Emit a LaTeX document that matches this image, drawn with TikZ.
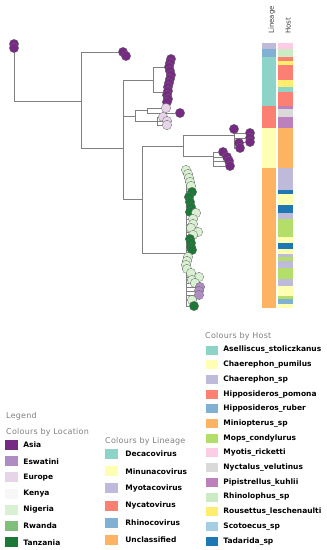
\documentclass[tikz,border=0pt]{standalone}
\usepackage{fontspec}
\setmainfont{DejaVu Sans}
\newfontfamily\headfont[LetterSpace=3]{DejaVu Sans}
\usetikzlibrary{positioning,backgrounds}
\definecolor{asia}{HTML}{762A83}
\definecolor{eswatini}{HTML}{AF8DC3}
\definecolor{europe}{HTML}{E7D4E8}
\definecolor{kenya}{HTML}{F7F7F7}
\definecolor{nigeria}{HTML}{D9F0D3}
\definecolor{rwanda}{HTML}{7FBF7B}
\definecolor{tanzania}{HTML}{1B7837}
\definecolor{deca}{HTML}{8DD3C7}
\definecolor{minuna}{HTML}{FFFFB3}
\definecolor{myota}{HTML}{BEBADA}
\definecolor{nycato}{HTML}{FB8072}
\definecolor{rhino}{HTML}{80B1D3}
\definecolor{uncl}{HTML}{FDB462}
\definecolor{mops}{HTML}{B3DE69}
\definecolor{myotis}{HTML}{FCCDE5}
\definecolor{nyctalus}{HTML}{D9D9D9}
\definecolor{pipi}{HTML}{BC80BD}
\definecolor{rhinolo}{HTML}{CCEBC5}
\definecolor{rouse}{HTML}{FFED6F}
\definecolor{scoto}{HTML}{A6CEE3}
\definecolor{tada}{HTML}{1F78B4}
\begin{document}
\begin{tikzpicture}[x=1pt,y=-1pt,
    branch/.style={draw=black!50,line width=0.8pt},
    tip/.style={circle,draw=black!60,line width=0.3pt,inner sep=0pt,minimum size=9.4pt},
    swatch/.style={minimum width=13pt,minimum height=10pt,inner sep=0pt},
    head/.style={font=\headfont\fontsize{8}{9}\selectfont,text=black!50,anchor=west,inner sep=1pt},
    item/.style={font=\fontsize{7.5}{8}\selectfont\bfseries,anchor=west,inner sep=1pt},
    coltitle/.style={font=\fontsize{7}{8}\selectfont,text=black!75,rotate=90,anchor=west,inner sep=0pt}]
  \useasboundingbox (0,0) rectangle (327,550);
  % internal nodes of the tree
  \coordinate (root) at (14,101);
  \coordinate (n1) at (81,101);
  \coordinate (n2) at (123,148);
  \coordinate (n3) at (153,80);
  \coordinate (n3a) at (167,67);
  \coordinate (n3b) at (166,92);
  \coordinate (n4) at (135,116);
  \coordinate (n4a) at (147,110);
  \coordinate (n4b) at (157,121);
  \coordinate (n5) at (142,199);
  \coordinate (n6) at (183,146);
  \coordinate (n8) at (234,135);
  \coordinate (n9) at (213,156);
  \coordinate (n7) at (186,253);
  % tips
  \foreach \x/\y/\c [count=\i] in {14/44/asia,14/48/asia}
    \node[tip,fill=\c] (t\i) at (\x,\y) {};
  \foreach \x/\y/\c [count=\i] in {123/52/asia,126/56/asia}
    \node[tip,fill=\c] (a\i) at (\x,\y) {};
  \foreach \x/\y/\c [count=\i] in {171/59/asia,170/63/asia,169/67/asia,170/71/asia,171/75/asia,170/79/asia,
      169/83/asia,168/87/asia,168/91/asia,167/95/asia,168/99/asia,167/102/asia}
    \node[tip,fill=\c] (s\i) at (\x,\y) {};
  \foreach \x/\y/\c [count=\i] in {166/108/europe,180/113/asia,163/117/europe,167/121/europe,167/125/europe}
    \node[tip,fill=\c] (p\i) at (\x,\y) {};
  \foreach \x/\y/\c [count=\i] in {234/129/asia,250/133/asia,250/138/asia,250/142/asia,239/143/asia,240/148/asia}
    \node[tip,fill=\c] (m\i) at (\x,\y) {};
  \foreach \x/\y/\c [count=\i] in {223/152/asia,227/157/asia,229/161/asia,230/166/asia}
    \node[tip,fill=\c] (k\i) at (\x,\y) {};
  \foreach \x/\y/\c [count=\i] in {186/170/nigeria,188/174/nigeria,189/178/nigeria,190/182/nigeria,191/186/nigeria,
      192/192/tanzania,189/197/tanzania,190/202/tanzania,191/207/tanzania,190/212/tanzania,
      196/213/nigeria,193/219/nigeria,193/224/nigeria,191/228/nigeria,198/232/nigeria,193/235/nigeria,
      190/239/tanzania,191/243/tanzania,191/247/tanzania,192/250/tanzania,
      188/257/nigeria,187/261/nigeria,186/265/nigeria,187/269/nigeria,191/273/nigeria,199/277/nigeria,
      192/280/nigeria,195/283/nigeria,200/287/eswatini,199/291/eswatini,199/295/eswatini,
      192/300/nigeria,194/306/tanzania}
    \node[tip,fill=\c] (g\i) at (\x,\y) {};
  % branches
  \begin{scope}[on background layer]
    \draw[branch] (root) |- (t1.center);
    \draw[branch] (root) -- (n1);
    \draw[branch] (n1) |- (a1);
    \draw[branch] (n1) |- (n2);
    \draw[branch] (n2) |- (n3);
    \draw[branch] (n2) |- (n4);
    \draw[branch] (n2) |- (n5);
    \draw[branch] (n3) |- (n3a);
    \draw[branch] (n3) |- (n3b);
    \foreach \i in {1,...,6} \draw[branch] (n3a) |- (s\i);
    \foreach \i in {7,...,12} \draw[branch] (n3b) |- (s\i);
    \draw[branch] (n4) |- (n4a);
    \draw[branch] (n4) |- (n4b);
    \foreach \i in {1,2} \draw[branch] (n4a) |- (p\i);
    \foreach \i in {3,4,5} \draw[branch] (n4b) |- (p\i);
    \draw[branch] (n5) |- (n6);
    \draw[branch] (n5) |- (n7);
    \draw[branch] (n6) |- (n8);
    \draw[branch] (n6) |- (n9);
    \foreach \i in {1,...,6} \draw[branch] (n8) |- (m\i);
    \foreach \i in {1,...,4} \draw[branch] (n9) |- (k\i);
    \foreach \i in {1,...,33} \draw[branch] (n7) |- (g\i);
  \end{scope}
  % metadata columns
  \node[coltitle] (lintitle) at (272,34) {Lineage};
  \node[coltitle] (hosttitle) at (288,34) {Host};
  \foreach \a/\b/\c in {43/49/myota,49/57/rhino,57/106/deca,106/128/nycato,128/168/minuna,168/308/uncl}
    \fill[\c] (262,\a) rectangle (276,\b);
  \foreach \a/\b/\c in {43/49/myotis,49/57/rhinolo,57/61/nycato,61/65/rouse,65/80/nycato,80/87/rouse,
      87/92/deca,92/106/nycato,106/109/pipi,109/117/nyctalus,117/128/pipi,128/168/uncl,168/190/myota,
      190/194/tada,194/205/minuna,205/213/tada,213/219/myota,219/237/mops,237/243/minuna,243/249/tada,
      249/254/minuna,254/257/myota,257/261/mops,261/268/myota,268/279/mops,279/286/myota,286/296/minuna,
      296/299/mops,299/304/rhino,304/308/minuna}
    \fill[\c] (278,\a) rectangle (293,\b);
  % legend
  \node[head] (legend) at (5,416) {Legend};
  \node[head] (loctitle) at (5,432) {Colours by Location};
  \foreach \name/\c [count=\i from 0] in {Asia/asia,Eswatini/eswatini,Europe/europe,Kenya/kenya,
      Nigeria/nigeria,Rwanda/rwanda,Tanzania/tanzania} {
    \node[swatch,fill=\c] (loc\i) at (11.5,{445+16.2*\i}) {};
    \node[item,right=4pt of loc\i] (loclab\i) {\name};
  }
  \node[head] (lintitle2) at (104,441) {Colours by Lineage};
  \foreach \name/\c [count=\i from 0] in {Decacovirus/deca,Minunacovirus/minuna,Myotacovirus/myota,
      Nycatovirus/nycato,Rhinocovirus/rhino,Unclassified/uncl} {
    \node[swatch,fill=\c] (lin\i) at (111.5,{454+17.2*\i}) {};
    \node[item,right=6pt of lin\i] (linlab\i) {\name};
  }
  \node[head] (hostttl) at (204,336) {Colours by Host};
  \foreach \name/\c [count=\i from 0] in {Aselliscus\_stoliczkanus/deca,Chaerephon\_pumilus/minuna,
      Chaerephon\_sp/myota,Hipposideros\_pomona/nycato,Hipposideros\_ruber/rhino,Miniopterus\_sp/uncl,
      Mops\_condylurus/mops,Myotis\_ricketti/myotis,Nyctalus\_velutinus/nyctalus,Pipistrellus\_kuhlii/pipi,
      Rhinolophus\_sp/rhinolo,Rousettus\_leschenaulti/rouse,Scotoecus\_sp/scoto,Tadarida\_sp/tada} {
    \node[swatch,minimum width=12pt,minimum height=9pt,fill=\c] (hst\i) at (212,{350+14.7*\i}) {};
    \node[item,right=4pt of hst\i] (hstlab\i) {\name};
  }
\end{tikzpicture}
\end{document}
